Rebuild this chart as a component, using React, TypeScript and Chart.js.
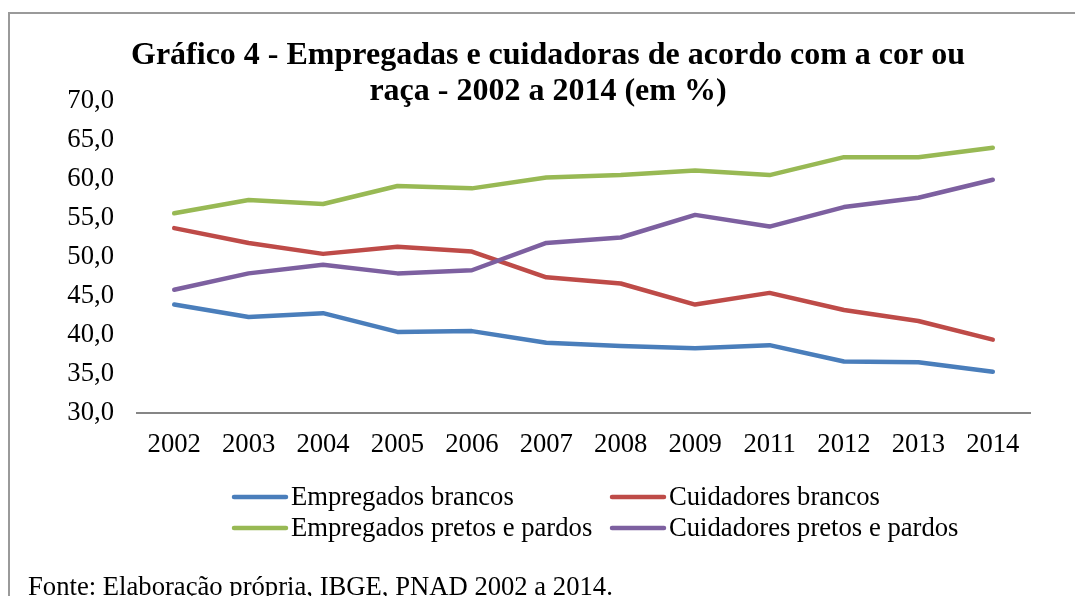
import React, { useEffect, useRef } from 'react';
import { Chart, registerables } from 'chart.js';

Chart.register(...registerables);

const categories = ['2002', '2003', '2004', '2005', '2006', '2007', '2008', '2009', '2011', '2012', '2013', '2014'];
const empregadosBrancos = [43.9, 42.3, 42.8, 40.4, 40.5, 39.0, 38.6, 38.3, 38.7, 36.6, 36.5, 35.3];
const cuidadoresBrancos = [53.7, 51.8, 50.4, 51.3, 50.7, 47.4, 46.6, 43.9, 45.4, 43.2, 41.8, 39.4];
const empregadosPretos = [55.6, 57.3, 56.8, 59.1, 58.8, 60.2, 60.5, 61.1, 60.5, 62.8, 62.8, 64.0];
const cuidadoresPretos = [45.8, 47.9, 49.0, 47.9, 48.3, 51.8, 52.5, 55.4, 53.9, 56.4, 57.6, 59.9];

const seriesLabels = ['Empregados brancos', 'Cuidadores brancos', 'Empregados pretos e pardos', 'Cuidadores pretos e pardos'];
const seriesColors = ['#4A7EBB', '#BE4B48', '#98B954', '#7D60A0'];

const titleLines = ['Gráfico 4 - Empregadas e cuidadoras de acordo com a cor ou', 'raça - 2002 a 2014 (em %)'];
const footerText = 'Fonte: Elaboração própria, IBGE, PNAD 2002 a 2014.';

const FONT = '"Liberation Serif", "Times New Roman", serif';
const TEXT_SIZE = 26.67;

const CANVAS_W = 1068;
const CANVAS_H = 582;

const titlePlugin = {
  id: 'customTitle',
  afterDraw(chart: any) {
    const ctx = chart.ctx;
    ctx.save();
    ctx.fillStyle = '#000';
    ctx.font = `bold 32px ${FONT}`;
    ctx.textAlign = 'center';
    ctx.textBaseline = 'alphabetic';
    const cx = 538;
    ctx.fillText(titleLines[0], cx, 50);
    ctx.fillText(titleLines[1], cx, 85.5);
    ctx.restore();
  },
};

const legendPlugin = {
  id: 'customLegend',
  afterDraw(chart: any) {
    const ctx = chart.ctx;
    ctx.save();
    ctx.font = `${TEXT_SIZE}px ${FONT}`;
    ctx.textAlign = 'left';
    ctx.textBaseline = 'middle';
    const colLineX = [222, 600];
    const rowY = [483, 514];
    chart.data.datasets.forEach((ds: any, i: number) => {
      const col = i % 2;
      const row = Math.floor(i / 2);
      const x = colLineX[col];
      const y = rowY[row];
      ctx.strokeStyle = ds.borderColor;
      ctx.lineWidth = 4.5;
      ctx.lineCap = 'round';
      ctx.beginPath();
      ctx.moveTo(x + 2, y);
      ctx.lineTo(x + 54, y);
      ctx.stroke();
      ctx.fillStyle = '#000';
      ctx.fillText(ds.label, x + 59, y + 1);
    });
    ctx.restore();
  },
};

export default function App() {
  const canvasRef = useRef<HTMLCanvasElement | null>(null);

  useEffect(() => {
    if (!canvasRef.current) return;
    const seriesData = [empregadosBrancos, cuidadoresBrancos, empregadosPretos, cuidadoresPretos];
    const chart = new Chart(canvasRef.current, {
      type: 'line',
      data: {
        labels: categories,
        datasets: seriesData.map((d, i) => ({
          label: seriesLabels[i],
          data: d,
          borderColor: seriesColors[i],
          backgroundColor: seriesColors[i],
          borderWidth: 4.5,
          borderCapStyle: 'round',
          borderJoinStyle: 'round',
          pointRadius: 0,
          pointHoverRadius: 0,
          tension: 0,
          fill: false,
          order: 4 - i,
        })),
      },
      options: {
        responsive: false,
        animation: false,
        devicePixelRatio: 1,
        layout: { padding: { left: 0, right: 48, top: 87, bottom: 123 } },
        plugins: {
          legend: { display: false },
          title: { display: false },
          tooltip: { enabled: false },
        },
        scales: {
          x: {
            type: 'category',
            offset: true,
            grid: { display: false, drawTicks: false },
            border: { display: true, color: '#868686', width: 2 },
            ticks: {
              color: '#000',
              font: { family: FONT, size: TEXT_SIZE },
              padding: 16,
              maxRotation: 0,
              autoSkip: false,
            },
            afterFit: (s: any) => {
              s.height = 60;
            },
          },
          y: {
            min: 30,
            max: 70,
            grid: { display: false, drawTicks: false },
            border: { display: false },
            ticks: {
              stepSize: 5,
              color: '#000',
              font: { family: FONT, size: TEXT_SIZE },
              padding: 23,
              callback: (v: any) => Number(v).toFixed(1).replace('.', ','),
            },
            afterFit: (s: any) => {
              s.width = 127;
            },
          },
        },
      },
      plugins: [titlePlugin, legendPlugin],
    });
    return () => chart.destroy();
  }, []);

  return (
    <div style={{ position: 'fixed', left: 0, top: 0, width: 1075, height: 596, overflow: 'hidden', background: '#fff' }}>
      <div
        style={{
          position: 'absolute',
          left: 8,
          top: 12,
          width: 1200,
          height: 800,
          border: '2px solid #9a9a9a',
          boxSizing: 'border-box',
        }}
      />
      <canvas
        ref={canvasRef}
        width={CANVAS_W}
        height={CANVAS_H}
        style={{ position: 'absolute', left: 10, top: 14, width: CANVAS_W, height: CANVAS_H }}
      />
      <div
        style={{
          position: 'absolute',
          left: 28,
          top: 573,
          fontFamily: FONT,
          fontSize: TEXT_SIZE,
          lineHeight: '26px',
          whiteSpace: 'nowrap',
          color: '#000',
        }}
      >
        {footerText}
      </div>
    </div>
  );
}
